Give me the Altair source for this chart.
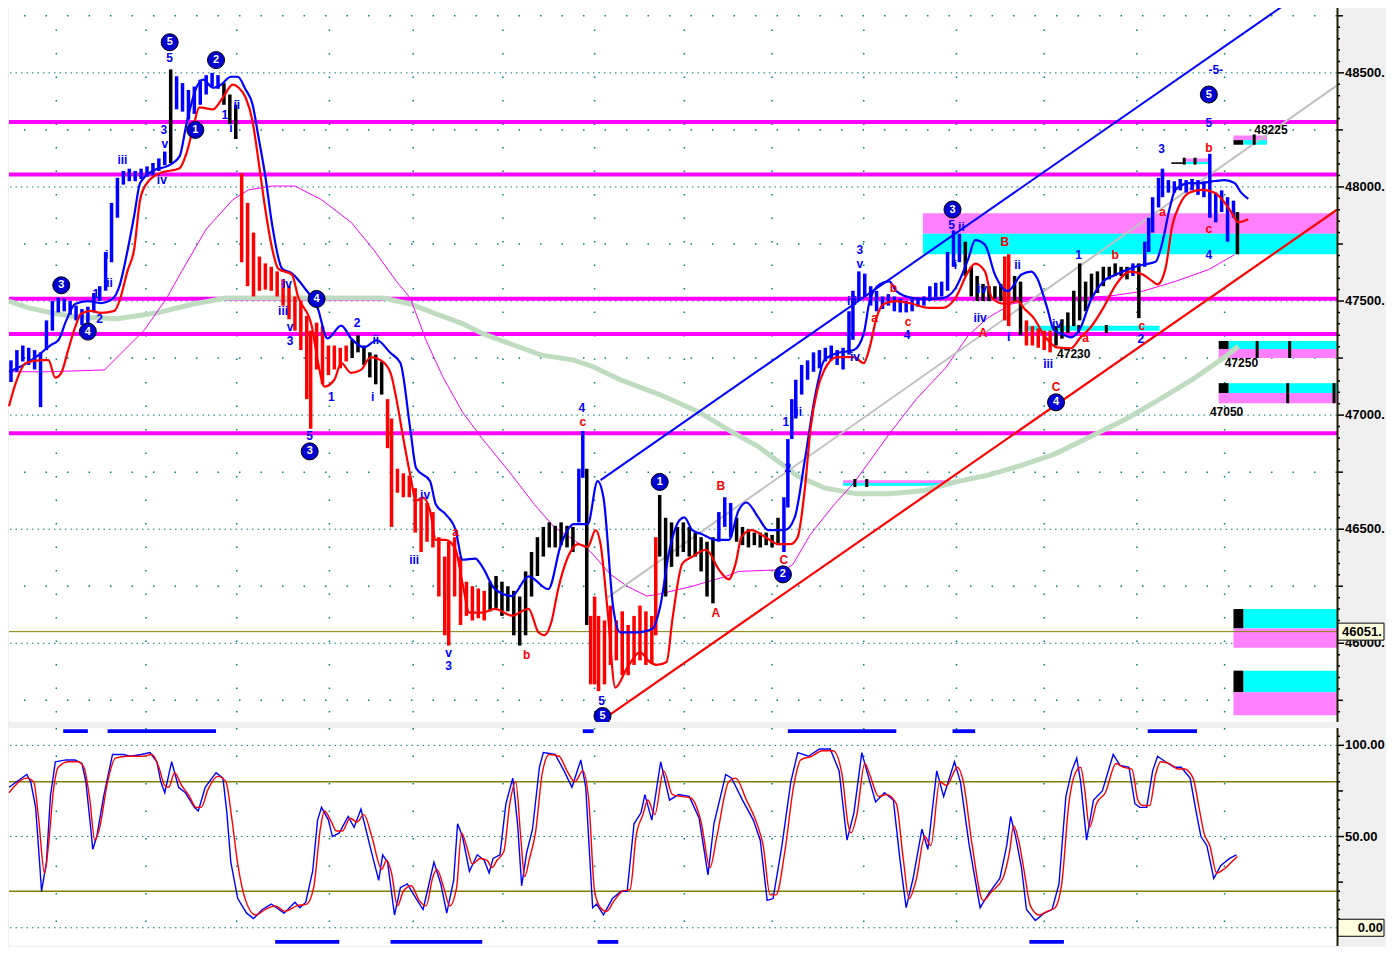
import altair as alt
import pandas as pd

W, H1, H2 = 1328, 716, 218
FONT = "Liberation Sans"
TEAL = "#008080"

# ---------------- price bars ----------------
bar_x = [2,8,14,20,26,32,38,44,50,56,
         62,68,74,80,86,92,98,104,110,116,
         122,128,134,140,146,152,158,164,170,176,
         182,188,194,200,206,212,218,224,230,236,
         242,248,254,260,266,272,278,284,290,296,
         302,306,312,318,324,330,336,342,348,354,
         360,366,372,378,384,388,394,400,406,412,
         418,424,430,436,442,446,452,458,464,470,
         476,482,488,494,500,506,512,518,524,530,
         536,542,548,554,560,566,572,578,582,586,
         590,594,598,604,610,616,622,628,634,640,
         646,652,656,660,666,672,678,684,690,696,
         702,708,714,720,726,732,738,744,750,756,
         762,768,774,780,786,790,794,798,804,810,
         816,822,828,834,840,846,852,856,862,868,
         874,880,886,892,898,904,910,916,922,928,
         934,940,946,952,958,964,970,976,982,988,
         994,1000,1006,1010,1014,1020,1026,1032,1038,1044,
         1050,1056,1062,1068,1074,1080,1086,1092,1098,1104,
         1110,1116,1122,1128,1134,1140,1146,1152,1156,1160,
         1166,1170,1176,1182,1188,1194,1200,1206,1212,1218,
         1224,1230,1236,1242,1246]
bar_hi = [47240,47285,47305,47295,47285,47275,47415,47500,47515,47510,
          47500,47480,47465,47475,47535,47565,47715,47930,48040,48070,
          48080,48070,48080,48090,48105,48125,48155,48515,48485,48455,
          48425,48440,48470,48490,48500,48490,48455,48405,48360,48060,
          47930,47800,47695,47665,47650,47630,47595,47565,47520,47500,
          47435,47370,47405,47390,47305,47305,47295,47305,47330,47350,
          47305,47275,47265,47235,47070,46985,46765,46745,46735,46680,
          46640,46615,46575,46465,46380,46445,46465,46380,46270,46250,
          46240,46230,46270,46295,46270,46250,46230,46205,46315,46400,
          46465,46510,46530,46515,46530,46515,46510,46765,46930,46765,
          46120,46205,46120,46100,46165,46100,46140,46080,46120,46165,
          46140,46120,46465,46650,46550,46530,46510,46530,46510,46485,
          46465,46445,46465,46575,46640,46615,46550,46510,46500,46485,
          46485,46485,46475,46550,46640,46895,47070,47155,47220,47240,
          47275,47285,47295,47305,47285,47295,47455,47545,47630,47620,
          47565,47545,47520,47530,47520,47510,47500,47510,47515,47520,
          47565,47580,47585,47715,47810,47795,47760,47650,47610,47575,
          47565,47565,47575,47695,47705,47610,47585,47415,47390,47380,
          47370,47370,47390,47420,47450,47545,47665,47585,47620,47630,
          47650,47650,47665,47650,47650,47665,47665,47760,47865,47955,
          48040,48080,48030,48025,48035,48030,48035,48030,48025,48145,
          47975,47985,47955,47940,47890]
bar_lo = [47145,47190,47235,47220,47200,47035,47285,47370,47450,47455,
          47440,47415,47395,47380,47450,47500,47545,47670,47865,48010,
          48025,48025,48035,48045,48050,48070,48095,48105,48340,48330,
          48295,48320,48360,48405,48440,48430,48360,48275,48210,47670,
          47565,47520,47545,47550,47545,47520,47480,47420,47370,47285,
          47070,46940,47200,47135,47175,47200,47205,47235,47250,47275,
          47220,47165,47135,47090,46855,46510,46660,46640,46640,46485,
          46400,46445,46420,46205,46035,45990,46205,46080,46120,46100,
          46110,46100,46140,46155,46120,46140,46035,45990,46035,46205,
          46295,46380,46420,46420,46430,46420,46400,46530,46725,46080,
          45820,45820,45790,45820,45905,45925,45860,45860,45905,45925,
          45905,45915,46035,46380,46205,46335,46380,46400,46380,46380,
          46315,46205,46175,46445,46510,46465,46445,46430,46420,46430,
          46420,46430,46420,46430,46400,46595,46895,46985,47090,47155,
          47190,47205,47235,47240,47220,47200,47265,47330,47500,47520,
          47480,47455,47465,47480,47455,47450,47450,47455,47475,47480,
          47500,47510,47520,47545,47650,47670,47610,47520,47500,47500,
          47500,47510,47500,47415,47390,47500,47350,47305,47305,47295,
          47285,47275,47305,47335,47360,47390,47415,47455,47510,47535,
          47565,47595,47610,47610,47595,47610,47425,47650,47715,47800,
          47910,47955,47975,47975,47985,47975,47985,47965,47955,47865,
          47845,47890,47760,47865,47705]
trend_start_x = [0,161,167,215,233,345,381,485,575,584,588,658,717,735,783,967,1008,1017,1029,1059,1137,1143,1149,1244]
trend_dir = ["up","flat","up","flat","down","flat","down","flat","up","flat","down","flat","up","flat",
             "up","flat","down","flat","down","flat","up","flat","up","flat"]

# ---------------- moving averages ----------------
blue_x = [0,15,30,42,50,58,67,80,93,105,112,120,127,133,147,160,173,180,190,197,
          207,215,225,232,240,247,253,260,267,277,287,300,313,323,337,347,360,373,387,397,
          407,413,427,433,443,453,460,473,480,493,510,527,547,560,573,587,597,603,613,620,
          637,653,660,670,680,685,693,703,717,730,740,748,760,770,787,797,807,817,827,840,
          857,867,873,883,893,900,917,933,947,960,973,980,990,1000,1013,1027,1037,1043,1053,1060,
          1067,1077,1087,1097,1110,1123,1137,1150,1163,1170,1177,1183,1197,1210,1223,1233,1243,1250,1257]
blue_v = [47190,47220,47263,47306,47328,47414,47487,47500,47491,47509,47565,47716,47875,48017,48073,48090,48134,48276,48435,48470,
          48435,48448,48483,48483,48427,48362,48220,48047,47832,47642,47621,47556,47470,47336,47392,47336,47297,47328,47272,47228,
          46940,46767,46711,46608,46565,46496,46366,46371,46336,46237,46207,46293,46237,46435,46522,46522,46711,46638,46151,46048,
          46048,46065,46151,46410,46539,46552,46496,46478,46453,46453,46582,46617,46552,46496,46496,46552,46797,47069,47241,47272,
          47285,47358,47500,47573,47586,47543,47513,47509,47513,47556,47685,47767,47746,47616,47543,47616,47629,47599,47470,47371,
          47358,47341,47384,47500,47586,47616,47642,47659,47672,47759,47901,47987,48017,48017,48026,48030,48017,47974,47948]
red_x = [0,7,17,33,40,47,53,60,67,73,83,93,107,113,120,127,133,140,153,173,
         180,187,193,207,217,227,233,240,247,253,260,267,273,287,293,307,313,320,330,337,
         347,357,367,377,387,393,400,407,413,420,427,433,443,453,460,467,480,493,510,527,
         537,543,550,557,567,577,587,595,600,607,615,627,640,650,657,667,673,683,693,707,
         720,730,737,743,753,767,780,793,800,807,813,820,827,840,857,867,873,880,887,900,
         917,933,947,960,973,980,990,997,1010,1023,1030,1040,1050,1063,1077,1087,1097,1110,1123,1137,
         1150,1160,1165,1173,1180,1187,1197,1210,1223,1233,1240,1247,1257]
red_v = [47039,47142,47228,47241,47241,47164,47185,47285,47384,47444,47457,47448,47457,47513,47629,47728,47944,48017,48060,48082,
         48147,48263,48349,48340,48392,48448,48435,48392,48289,48116,47901,47728,47642,47616,47522,47392,47241,47125,47155,47228,
         47185,47198,47254,47241,47185,47069,46897,46737,46625,46638,46582,46453,46453,46410,46263,46134,46134,46151,46121,46151,
         46048,46035,46091,46237,46379,46435,46422,46496,46435,46151,45806,45892,45961,45918,45905,45918,46108,46349,46379,46410,
         46323,46280,46349,46466,46496,46466,46435,46435,46466,46668,46940,47112,47198,47254,47254,47228,47297,47427,47487,47500,
         47487,47470,47470,47513,47629,47664,47629,47513,47487,47500,47466,47422,47349,47297,47293,47341,47384,47470,47573,47629,
         47616,47586,47573,47642,47832,47918,47974,47987,47974,47931,47888,47845,47858]
mag_x = [0,40,97,117,137,160,175,200,227,243,267,290,317,347,370,393,407,423,440,460,
         480,507,533,553,573,590,610,627,647,660,693,727,740,787,795,813,837,857,870,893,
         920,950,973,993,1017,1050,1083,1117,1150,1183,1217,1243]
mag_v = [47190,47190,47198,47285,47371,47513,47629,47815,47944,47987,48004,48004,47944,47845,47724,47586,47513,47328,47168,47013,
         46897,46754,46608,46509,46453,46401,46302,46250,46207,46216,46250,46293,46315,46323,46345,46478,46608,46703,46780,46918,
         47069,47207,47349,47427,47487,47513,47513,47522,47543,47586,47638,47703]
grn_x = [0,20,43,67,110,150,187,220,267,350,380,407,433,460,480,507,540,573,593,620,
         660,700,733,760,780,800,827,860,893,927,960,993,1027,1060,1093,1133,1167,1200,1233,1247]
grn_v = [47500,47470,47448,47431,47422,47448,47487,47513,47513,47513,47513,47487,47444,47401,47358,47315,47263,47241,47211,47155,
         47090,47013,46927,46862,46798,46733,46681,46655,46655,46668,46707,46737,46780,46828,46897,46983,47069,47155,47254,47302]

# ---------------- trend lines & levels ----------------
tl_blue_x, tl_blue_p = [600, 1292], [46715, 48793]
tl_gray_x, tl_gray_p = [607, 1347], [46200, 48445]
tl_red_x, tl_red_p = [607, 1347], [45680, 47900]
level_p = [48285, 48055, 47510, 47355, 46920]
last_price = 46051

# ---------------- zones ----------------
zone_x1 = [927,927,846,846,1030,1192,1192,1179,1242,1242,1252,1237,1227,1227,1237,1227,1227,1252,1242,1242,1252,1242,1242]
zone_x2 = [1347,1347,955,955,1167,1218,1218,1192,1276,1252,1276,1347,1237,1347,1347,1237,1347,1347,1252,1347,1347,1252,1347]
zone_top = [47885,47795,46715,46703,47392,48125,48110,48108,48225,48205,48205,47325,47325,47290,47140,47140,47097,46150,46150,46065,45880,45880,45785]
zone_bot = [47795,47705,46703,46690,47370,48110,48100,48101,48205,48185,48185,47290,47290,47250,47097,47097,47052,46065,46065,45980,45785,45785,45685]
zone_kind = ["pink","cyan","pink","cyan","cyan","pink","cyan","black","pink","black","cyan","cyan","black","pink",
             "cyan","black","pink","cyan","black","pink","cyan","black","pink"]
tk_x = [858,870,1113,1085,1192,1203,1263,1266,1299,1297,1344]
tk_top = [46720,46720,47395,47395,48128,48128,48230,47325,47325,47140,47140]
tk_bot = [46685,46685,47360,47360,48098,48098,48185,47250,47250,47052,47052]

# ---------------- labels ----------------
bl_t = ["5","3","v","iii","iv","1","ii","i","i","ii","1","2","iv","iii","v","3","5","1","2","ii","i","iv","iii","v","3","4","5",
        "1","2","i","ii","3","v","iii","iv","4","5","ii","i","iv","iiv","ii","i","iii","iv","1","2","3","4","5","-5-"]
bl_x = [163,157,158,115,155,219,231,225,99,102,88,92,282,278,285,285,305,327,353,372,369,422,411,446,446,581,601,
        788,790,798,801,863,863,855,858,911,956,966,960,987,985,1023,1014,1054,1063,1085,1148,1169,1217,1217,1224]
bl_p = [48565,48250,48190,48116,48030,48315,48358,48259,47703,47578,47530,47422,47573,47457,47385,47325,46910,47078,47405,47328,
        47078,46651,46367,45957,45901,47030,45746,46970,46767,47125,47013,47724,47664,47500,47254,47353,47832,47823,47660,47552,
        47427,47660,47341,47225,47401,47703,47332,48168,47703,48280,48513]
rl_t = ["a","b","c","B","A","C","a","b","c","A","B","a","b","c","C","a","b","c"]
rl_x = [453,525,582,722,717,786,878,897,912,988,1010,1092,1122,1149,1062,1170,1217,1217]
rl_p = [46487,45948,46970,46690,46134,46366,47427,47556,47410,47362,47759,47336,47703,47392,47125,47892,48172,47815]
kl_t = ["47230","48225","47250","47050"]
kl_x = [1080,1280,1250,1235]
kl_p = [47266,48250,47228,47013]
c_t = ["5","2","1","3","4","4","3","5","1","2","3","4","5"]
c_x = [163,210,189,53,80,312,305,602,660,785,957,1062,1217]
c_p = [48634,48556,48250,47569,47366,47509,46841,45681,46707,46302,47901,47056,48405]

# ---------------- grid / axis ticks ----------------
major_p = [46000,46500,47000,47500,48000,48500]
minor_p = [45750,46250,46750,47250,47750,48250,48750]
small_tick_p = [v for v in range(45700, 48800, 50) if v % 250 != 0]
grid_x = [48,139,231,325,410,501,594,685,774,867,961,1050,1144,1233]

# ---------------- stochastic ----------------
k_x = [0,18,22,27,31,33,38,42,47,58,67,74,78,83,85,89,96,105,116,123,
       134,143,150,154,158,165,172,179,188,192,199,210,217,221,225,232,241,248,257,266,
       279,290,295,301,308,313,317,324,328,335,344,350,357,366,375,379,384,391,397,404,
       413,420,426,431,438,444,451,455,460,467,475,482,487,491,498,504,511,516,520,525,
       531,538,542,554,563,571,580,585,592,596,603,612,621,627,634,641,645,652,661,670,
       679,690,700,709,715,727,733,744,755,762,769,775,784,793,800,811,822,833,842,848,
       850,857,865,870,879,888,897,904,910,917,926,932,941,948,959,965,974,985,994,1005,
       1012,1016,1021,1027,1032,1041,1050,1058,1065,1072,1078,1083,1087,1093,1100,1109,1120,1127,1136,1142,
       1147,1154,1160,1165,1173,1182,1189,1198,1204,1209,1215,1222,1229,1238,1245]
k_v = [77,84,80,66,36,20,36,72,91,92,92,90,80,54,43,50,72,95,95,94,
       95,96,91,80,74,91,77,74,66,64,77,85,82,63,36,16,8,5,10,13,
       8,14,11,14,31,59,66,59,50,52,61,55,65,45,26,40,36,7,22,24,
       16,10,24,36,24,8,26,57,50,31,40,37,30,38,40,68,82,56,23,41,
       54,88,96,95,86,77,92,77,11,13,7,16,20,20,57,63,73,59,91,70,
       73,72,60,29,57,84,82,70,59,48,15,16,45,80,96,94,98,98,86,57,
       48,63,96,86,69,74,70,36,11,27,54,43,86,72,91,80,45,11,19,27,
       45,61,50,33,10,4,8,10,24,72,86,93,80,48,70,75,95,89,88,68,
       66,66,86,94,91,88,88,82,64,50,45,27,34,38,40]
d_x = [0,18,25,30,36,40,45,50,60,70,76,82,87,92,100,108,120,135,145,152,
       158,162,168,175,182,190,195,202,212,220,226,232,240,250,260,270,280,292,302,309,
       316,320,327,332,338,346,353,360,368,378,383,388,394,400,408,416,423,430,434,441,
       447,454,459,464,470,478,485,490,495,502,508,514,519,523,528,534,541,548,558,566,
       574,582,588,594,600,606,614,622,630,636,643,648,655,664,673,682,692,702,711,718,
       730,737,748,758,765,772,778,787,796,803,814,825,836,845,851,854,860,868,873,882,
       890,900,907,913,920,929,935,944,951,962,968,977,988,997,1008,1015,1019,1024,1030,1036,
       1045,1053,1061,1068,1075,1081,1087,1091,1096,1103,1112,1123,1130,1139,1145,1150,1157,1163,1168,1177,
       1186,1192,1201,1207,1212,1218,1225,1232,1240,1246]
d_v = [74,82,80,60,30,45,75,88,91,91,88,70,48,55,80,93,94,94,95,88,
       78,77,85,78,73,66,66,76,83,80,60,35,15,7,10,12,9,12,13,22,
       55,64,58,53,53,60,58,62,50,32,37,30,12,20,23,15,12,28,32,22,
       12,22,52,45,35,38,37,33,37,42,68,80,50,28,38,52,85,95,94,86,
       80,86,70,20,11,9,15,20,21,50,62,70,62,86,73,72,71,58,33,50,
       80,82,70,58,45,18,18,42,78,92,94,97,97,84,57,52,62,90,84,72,
       73,68,38,16,26,50,45,80,78,88,80,45,15,20,27,42,56,48,30,12,
       7,9,11,25,68,84,88,76,55,68,74,90,88,87,70,67,67,84,91,90,
       87,87,82,66,52,45,30,32,36,39]
ob_x1, ob_x2 = [55,100,582,790,957,1155], [80,210,593,900,980,1205]
os_x1, os_x2 = [270,387,597,1035], [335,480,618,1070]
ob_band = [106.7, 108.8]
os_band = [-8.8, -6.7]
stoch_major = [0, 50, 100]
stoch_labels = [50, 100]
stoch_levels = [20, 80]
stoch_mid_ticks = [25, 75]
stoch_small_ticks = [v for v in range(5, 110, 5) if v % 25 != 0]

# ================= build =================
xs = alt.Scale(domain=[0, 1347], nice=False, zero=False)
ps = alt.Scale(domain=[45655, 48793], nice=False, zero=False)
ss = alt.Scale(domain=[-10, 109.5], nice=False, zero=False)


def X(f="x"):
    return alt.X(f"{f}:Q", scale=xs, axis=None)


def PY(f):
    return alt.Y(f"{f}:Q", scale=ps, axis=None, title=None)


def SY(f):
    return alt.Y(f"{f}:Q", scale=ss, axis=None, title=None)


dir_color = {"up": "#0000ff", "down": "#ff0000", "flat": "#000000"}


def bar_dir(x):
    d = trend_dir[0]
    for s, t in zip(trend_start_x, trend_dir):
        if x >= s:
            d = t
    return d


bars_df = pd.DataFrame({"x": bar_x, "hi": bar_hi, "lo": bar_lo})
bars_df["col"] = [dir_color[bar_dir(x)] for x in bar_x]

zone_color = {"pink": "#ff80ff", "cyan": "#00ffff", "black": "#000000"}
zones_df = pd.DataFrame({"x1": zone_x1, "x2": zone_x2, "top": zone_top, "bot": zone_bot})
zones_df["col"] = [zone_color[k] for k in zone_kind]

TAG_SHAPE = "M-1,-0.37H1V0.37H-1Z"


def side_ticks(values, yfun, length):
    return alt.Chart(pd.DataFrame({"v": values})).mark_rule(color="black", strokeWidth=1.5).encode(
        x=alt.value(W + 1), x2=alt.value(W + 1 + length), y=yfun("v"))


def side_labels(values, texts, yfun):
    return alt.Chart(pd.DataFrame({"v": values, "t": texts})).mark_text(
        font=FONT, fontSize=13, fontWeight="bold", color="black", align="left", baseline="middle").encode(
        x=alt.value(W + 8), y=yfun("v"), text="t:N")


def domain_line(h):
    return alt.Chart(pd.DataFrame({"d": [0]})).mark_rule(color="#202000", strokeWidth=2).encode(
        x=alt.value(W + 0.5), y=alt.value(0), y2=alt.value(h))


grid_major = alt.Chart(pd.DataFrame({"p": major_p})).mark_rule(
    color=TEAL, strokeWidth=1, strokeDash=[1.5, 4]).encode(y=PY("p"))
grid_minor = alt.Chart(pd.DataFrame({"p": minor_p})).mark_rule(
    color=TEAL, strokeWidth=1.5, strokeDash=[1.5, 20]).encode(y=PY("p"))
vgrid = alt.Chart(pd.DataFrame({"x": grid_x})).mark_rule(
    color=TEAL, strokeWidth=1.5, strokeDash=[1.5, 22]).encode(x=X())
zones = alt.Chart(zones_df).mark_rect().encode(
    x=X("x1"), x2="x2:Q", y=PY("top"), y2="bot:Q", color=alt.Color("col:N", scale=None))
levels = alt.Chart(pd.DataFrame({"p": level_p})).mark_rule(
    color="#ff00ff", strokeWidth=4).encode(y=PY("p"))
green = alt.Chart(pd.DataFrame({"x": grn_x, "v": grn_v})).mark_line(
    color="#c0dcc0", strokeWidth=5).encode(x=X(), y=PY("v"))
olive = alt.Chart(pd.DataFrame({"p": [last_price]})).mark_rule(
    color="#808000", strokeWidth=1).encode(y=PY("p"))
magenta = alt.Chart(pd.DataFrame({"x": mag_x, "v": mag_v})).mark_line(
    color="#ff00ff", strokeWidth=1).encode(x=X(), y=PY("v"))
tl_gray = alt.Chart(pd.DataFrame({"x": tl_gray_x, "v": tl_gray_p})).mark_line(
    color="#c0c0c0", strokeWidth=2).encode(x=X(), y=PY("v"))
tl_blue = alt.Chart(pd.DataFrame({"x": tl_blue_x, "v": tl_blue_p})).mark_line(
    color="#0000ff", strokeWidth=2, clip=True).encode(x=X(), y=PY("v"))
tl_red = alt.Chart(pd.DataFrame({"x": tl_red_x, "v": tl_red_p})).mark_line(
    color="#ff0000", strokeWidth=2.2).encode(x=X(), y=PY("v"))
zticks = alt.Chart(pd.DataFrame({"x": tk_x, "t": tk_top, "b": tk_bot})).mark_rule(
    color="black", strokeWidth=3).encode(x=X(), y=PY("t"), y2="b:Q")
bars = alt.Chart(bars_df).mark_rule(strokeWidth=3.5).encode(
    x=X(), y=PY("hi"), y2="lo:Q", color=alt.Color("col:N", scale=None))
blue_ma = alt.Chart(pd.DataFrame({"x": blue_x, "v": blue_v})).mark_line(
    color="#0000ff", strokeWidth=2.2, interpolate="monotone").encode(x=X(), y=PY("v"))
red_ma = alt.Chart(pd.DataFrame({"x": red_x, "v": red_v})).mark_line(
    color="#ff0000", strokeWidth=2.2, interpolate="monotone").encode(x=X(), y=PY("v"))


def text_layer(xv, pv, tv, color, size=12):
    return alt.Chart(pd.DataFrame({"x": xv, "p": pv, "t": tv})).mark_text(
        font=FONT, fontSize=size, fontWeight="bold", color=color, baseline="middle").encode(
        x=X(), y=PY("p"), text="t:N")


blue_lbl = text_layer(bl_x, bl_p, bl_t, "#0000ff")
red_lbl = text_layer(rl_x, rl_p, rl_t, "#ff0000")
black_lbl = text_layer(kl_x, kl_p, kl_t, "#000000")
circ_df = pd.DataFrame({"x": c_x, "p": c_p, "t": c_t})
circles = alt.Chart(circ_df).mark_point(
    shape="circle", filled=True, size=290, color="#0000d0", stroke="#000000",
    strokeWidth=1, opacity=1, clip=True).encode(x=X(), y=PY("p"))
circ_txt = alt.Chart(circ_df).mark_text(
    font=FONT, fontSize=11, fontWeight="bold", color="white", baseline="middle", clip=True).encode(
    x=X(), y=PY("p"), text="t:N")
tag_df = pd.DataFrame({"p": [last_price], "t": [f"{last_price}."]})
tag_box = alt.Chart(tag_df).mark_point(
    shape=TAG_SHAPE, size=2116, filled=True, color="#ffffe0", stroke="black",
    strokeWidth=1, opacity=1).encode(x=alt.value(W + 24), y=PY("p"))
tag_txt = alt.Chart(tag_df).mark_text(
    font=FONT, fontSize=13, fontWeight="bold", color="black", align="left", baseline="middle").encode(
    x=alt.value(W + 5), y=PY("p"), text="t:N")

price_label_text = [f"{v}." for v in major_p]

top = alt.layer(grid_major, grid_minor, vgrid, zones, levels, green, olive, magenta,
                tl_gray, tl_blue, tl_red, zticks, bars, blue_ma, red_ma,
                blue_lbl, red_lbl, black_lbl, circles, circ_txt,
                domain_line(H1),
                side_ticks(small_tick_p, PY, 2), side_ticks(minor_p, PY, 5), side_ticks(major_p, PY, 6),
                side_labels(major_p, price_label_text, PY),
                tag_box, tag_txt
                ).properties(width=W, height=H1)

# ---- stochastic panel ----
s_grid = alt.Chart(pd.DataFrame({"v": stoch_major})).mark_rule(
    color=TEAL, strokeWidth=1, strokeDash=[1.5, 4]).encode(y=SY("v"))
s_lvls = alt.Chart(pd.DataFrame({"v": stoch_levels})).mark_rule(
    color="#808000", strokeWidth=1.5).encode(y=SY("v"))
s_vgrid = alt.Chart(pd.DataFrame({"x": grid_x})).mark_rule(
    color=TEAL, strokeWidth=1.5, strokeDash=[1.5, 26]).encode(x=X())
ob = alt.Chart(pd.DataFrame({"x1": ob_x1, "x2": ob_x2, "lo": ob_band[0], "hi": ob_band[1]})).mark_rect(
    color="#0000ff").encode(x=X("x1"), x2="x2:Q", y=SY("lo"), y2="hi:Q")
osold = alt.Chart(pd.DataFrame({"x1": os_x1, "x2": os_x2, "lo": os_band[0], "hi": os_band[1]})).mark_rect(
    color="#0000ff").encode(x=X("x1"), x2="x2:Q", y=SY("lo"), y2="hi:Q")
k_line = alt.Chart(pd.DataFrame({"x": k_x, "v": k_v})).mark_line(
    color="#0000ff", strokeWidth=1.4).encode(x=X(), y=SY("v"))
d_line = alt.Chart(pd.DataFrame({"x": d_x, "v": d_v})).mark_line(
    color="#ff0000", strokeWidth=1.4, interpolate="monotone").encode(x=X(), y=SY("v"))
s_tag_df = pd.DataFrame({"v": [0], "t": ["0.00"]})
s_tag_box = alt.Chart(s_tag_df).mark_point(
    shape=TAG_SHAPE, size=2116, filled=True, color="#ffffe0", stroke="black",
    strokeWidth=1, opacity=1).encode(x=alt.value(W + 24), y=SY("v"))
s_tag_txt = alt.Chart(s_tag_df).mark_text(
    font=FONT, fontSize=13, fontWeight="bold", color="black", align="right", baseline="middle").encode(
    x=alt.value(W + 46), y=SY("v"), text="t:N")

stoch_label_text = [f"{v:.2f}" for v in stoch_labels]

bottom = alt.layer(s_grid, s_lvls, s_vgrid, ob, osold, k_line, d_line,
                   domain_line(H2),
                   side_ticks(stoch_small_ticks, SY, 2), side_ticks(stoch_mid_ticks, SY, 5),
                   side_ticks(stoch_labels, SY, 6),
                   side_labels(stoch_labels, stoch_label_text, SY),
                   s_tag_box, s_tag_txt
                   ).properties(width=W, height=H2)

chart = alt.vconcat(top, bottom, spacing=4).properties(
    padding={"left": -9, "top": -3, "right": 0, "bottom": 0},
    background="#f0f0f0").configure_view(fill="white", stroke=None)

chart.save("out.html", embed_options={"renderer": "svg", "actions": False})
